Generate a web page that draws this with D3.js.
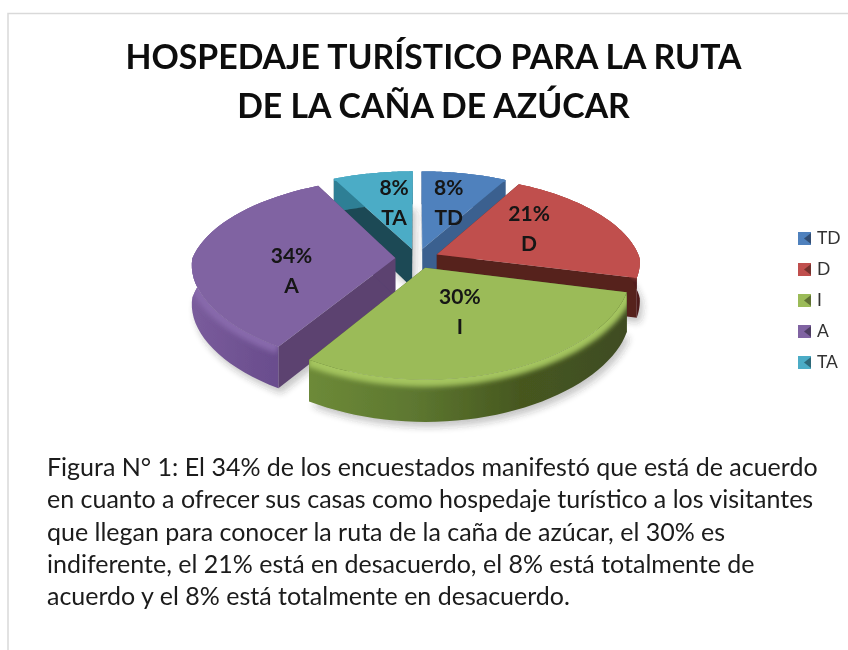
<!DOCTYPE html>
<html>
<head>
<meta charset="utf-8">
<script src="https://cdn.jsdelivr.net/npm/d3@7/dist/d3.min.js"></script>
<style>
html,body{margin:0;padding:0;background:#fff;}
svg{display:block;}
text{font-family:Lato,"Open Sans",sans-serif;}
</style>
</head>
<body>
<svg id="c" width="848" height="650"></svg>
<script>
const categories = ["TD","D","I","A","TA"];
const values = [8,21,30,33.5,7.5];
const percentLabels = ["8%","21%","30%","34%","8%"];
const titleLines = ["HOSPEDAJE TURÍSTICO PARA LA RUTA","DE LA CAÑA DE AZÚCAR"];
const captionLines = [
 "Figura N° 1: El 34% de los encuestados manifestó que está de acuerdo",
 "en cuanto a ofrecer sus casas como hospedaje turístico a los visitantes",
 "que llegan para conocer la ruta de la caña de azúcar, el 30% es",
 "indiferente, el 21% está en desacuerdo, el 8% está totalmente de",
 "acuerdo y el 8% está totalmente en desacuerdo."
];
const faceColors = ["#4f81bd","#c0504d","#9bbb59","#8064a2","#4bacc6"];
const cutColors  = ["#3b618f","#57201f","#4a5c2a","#5b4270","#1e4a55"];
const rimStops = [
 ["#3b618f","#3b618f"],
 ["#7a2f2d","#4f1d1c"],
 ["#6d8a38","#5d7730","#46571f","#3f4c22"],
 ["#7a5c9c","#6d5090","#65498a"],
 ["#2e7f95","#2e7f95"]
];

const svg = d3.select("#c");
const defs = svg.append("defs");
defs.append("filter").attr("id","b3").attr("x","-20%").attr("y","-20%").attr("width","140%").attr("height","140%")
  .append("feGaussianBlur").attr("stdDeviation",3.5);
defs.append("filter").attr("id","b2").attr("x","-20%").attr("y","-20%").attr("width","140%").attr("height","140%")
  .append("feGaussianBlur").attr("stdDeviation",2.6);
defs.append("filter").attr("id","soft").attr("x","-5%").attr("y","-5%").attr("width","110%").attr("height","110%")
  .append("feGaussianBlur").attr("stdDeviation",0.55);

// frame of the screenshot
svg.append("path").attr("d","M8,650V13.5H848").attr("fill","none").attr("stroke","#d9d9d9").attr("stroke-width",1.5);

const root = svg.append("g").attr("filter","url(#soft)");

// pie geometry: plane coordinates projected with a tilted perspective
const cx=417, cy=258.5, R=203, RY=92, kBack=.17, kFront=.07, kY=.15, explode=.107, depth=39;
const wX = v=>1/(1-(v<0?kBack:kFront)*v);
const xs = (u,v)=>cx+R*u*wX(v);
const ys = (v)=>cy+RY*v/(1-kY*v);
const pt = (u,v,down)=>[xs(u,v), ys(v)+(down?depth*wX(v):0)];
const line = d3.line();
const pie = d3.pie().sort(null).value(d=>d)(values);

const slices = pie.map((p,i)=>{
  const mid=(p.startAngle+p.endAngle)/2;
  const ou=explode*Math.sin(mid), ov=-explode*Math.cos(mid);
  const steps=d3.range(0,41).map(k=>p.startAngle+(p.endAngle-p.startAngle)*k/40);
  const arcU=a=>[ou+Math.sin(a), ov-Math.cos(a)];
  return {i,mid,ou,ov,steps,arcU,order:-Math.cos(mid)};
});

function sliceGeom(s){
  const top=s.steps.map(a=>{const [u,v]=s.arcU(a);return pt(u,v,false);});
  const bot=s.steps.map(a=>{const [u,v]=s.arcU(a);return pt(u,v,true);});
  const apexT=pt(s.ou,s.ov,false), apexB=pt(s.ou,s.ov,true);
  return {top,bot,apexT,apexB};
}

// soft shadows under the whole pie
const shadowG=root.append("g").attr("filter","url(#b3)").attr("opacity",.28);
slices.forEach(s=>{
  const g=sliceGeom(s);
  shadowG.append("path").attr("fill","#333").attr("transform","translate(3,5)")
    .attr("d",line([g.apexB,...g.bot])+"Z");
});

const drawOrder=d3.sort(slices,s=>s.order);
drawOrder.forEach(s=>{
  const g=sliceGeom(s), i=s.i;
  const G=root.append("g");
  const gid="rim"+i;
  const xe=d3.extent(g.top,d=>d[0]);
  const lg=defs.append("linearGradient").attr("id",gid).attr("gradientUnits","userSpaceOnUse")
    .attr("x1",xe[0]).attr("x2",xe[1]).attr("y1",0).attr("y2",0);
  rimStops[i].forEach((c,k,a)=>lg.append("stop").attr("offset",k/(a.length-1)).attr("stop-color",c));
  // cut walls
  const n=g.top.length-1;
  G.append("path").attr("fill",cutColors[i]).attr("d",line([g.apexT,g.top[0],g.bot[0],g.apexB])+"Z");
  G.append("path").attr("fill",cutColors[i]).attr("d",line([g.apexT,g.top[n],g.bot[n],g.apexB])+"Z");
  // outer wall
  const wall=line([...g.top,...g.bot.slice().reverse()])+"Z";
  G.append("path").attr("fill","url(#"+gid+")").attr("d",wall);
  // bevel between face and wall
  const clipId="cl"+i;
  defs.append("clipPath").attr("id",clipId).append("path").attr("d",wall);
  G.append("g").attr("clip-path","url(#"+clipId+")")
    .append("path").attr("fill","none").attr("stroke",d3.color(faceColors[i]).brighter(.15))
    .attr("stroke-width",14).attr("filter","url(#b2)").attr("d",line(g.top));
  // top face
  G.append("path").attr("fill",faceColors[i]).attr("d",line([g.apexT,...g.top])+"Z");
});

// data labels
const labelNudge=[[3,-4],[0,-7],[-6,-5],[1,15],[4,-4]];
slices.forEach(s=>{
  const r=.52;
  const p=pt(s.ou+r*Math.sin(s.mid), s.ov-r*Math.cos(s.mid), false);
  const x=p[0]+labelNudge[s.i][0], y=p[1]+labelNudge[s.i][1];
  const t=root.append("text").attr("text-anchor","middle").attr("font-size",21).attr("font-weight",700).attr("fill","#141414");
  t.append("tspan").attr("x",x).attr("y",y-8).text(percentLabels[s.i]);
  t.append("tspan").attr("x",x).attr("y",y+22).text(categories[s.i]);
});

// title
const titleY=d3.scalePoint().domain(titleLines).range([69,118]);
root.selectAll("text.t").data(titleLines).join("text").attr("class","t")
  .attr("x",433.5).attr("y",d=>titleY(d)).attr("text-anchor","middle")
  .attr("font-size",33.8).attr("font-weight",700).attr("fill","#0a0a0a").text(d=>d);

// legend
const legY=d3.scalePoint().domain(categories).range([238,362]);
const leg=root.selectAll("g.l").data(categories).join("g").attr("class","l")
  .attr("transform",d=>`translate(798,${legY(d)-6})`);
leg.append("rect").attr("width",13).attr("height",13).attr("fill",(d,i)=>faceColors[i]);
leg.append("path").attr("d","M6,6.5L13,1V12Z").attr("fill",(d,i)=>d3.color(faceColors[i]).darker(1.4));
leg.append("text").attr("x",19).attr("y",12).attr("font-size",17.5).attr("fill","#333").text(d=>d);

// caption
const capY=d3.scalePoint().domain(captionLines).range([476,605]);
root.selectAll("text.c").data(captionLines).join("text").attr("class","c")
  .attr("x",47).attr("y",d=>capY(d)).attr("font-size",25).attr("fill","#1a1a1a").text(d=>d);
</script>
</body>
</html>
